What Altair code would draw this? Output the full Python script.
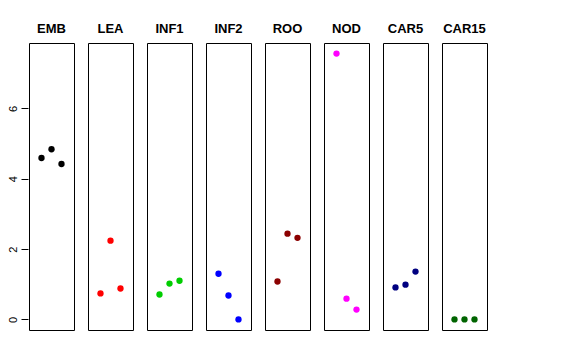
import altair as alt
import pandas as pd

tissues = ["EMB", "LEA", "INF1", "INF2", "ROO", "NOD", "CAR5", "CAR15"]
colors = ["#000000", "#FF0000", "#00CD00", "#0000FF", "#8B0000", "#FF00FF", "#000080", "#006400"]
replicate = [1, 2, 3]
values = {
    "EMB": [4.59, 4.84, 4.42],
    "LEA": [0.74, 2.24, 0.88],
    "INF1": [0.71, 1.02, 1.10],
    "INF2": [1.30, 0.68, 0.00],
    "ROO": [1.08, 2.44, 2.32],
    "NOD": [7.56, 0.59, 0.28],
    "CAR5": [0.91, 0.99, 1.36],
    "CAR15": [0.00, 0.00, 0.00],
}

rows = []
for t in tissues:
    for r, v in zip(replicate, values[t]):
        rows.append({"tissue": t, "rep": r, "value": v})
df = pd.DataFrame(rows)

base = alt.Chart(df).mark_circle(size=40, opacity=1).encode(
    x=alt.X("rep:Q", scale=alt.Scale(domain=[-0.25, 4.25], nice=False, zero=False), axis=None),
    y=alt.Y("value:Q", scale=alt.Scale(domain=[-0.30, 7.86], nice=False, zero=False),
            axis=alt.Axis(values=[0, 2, 4, 6], labelAngle=270, tickSize=7, domain=False,
                          grid=False, title=None, labelPadding=3, labelFontSize=11,
                          labelColor="#000000", tickColor="#000000",
                          labelFont="Liberation Sans")),
    color=alt.Color("tissue:N", scale=alt.Scale(domain=tissues, range=colors), legend=None),
).properties(width=45, height=287)

chart = base.facet(
    column=alt.Column("tissue:N", sort=tissues,
                      header=alt.Header(labelOrient="top", title=None, labelFontSize=13,
                                        labelFontWeight="bold", labelFont="Liberation Sans",
                                        labelColor="#000000", labelPadding=6)),
    spacing=12,
).configure_view(
    stroke="#000000", strokeWidth=1
).properties(padding={"top": 15, "left": -1, "right": 5, "bottom": 5})

chart.save("out.html", embed_options={"renderer": "svg", "actions": False})
